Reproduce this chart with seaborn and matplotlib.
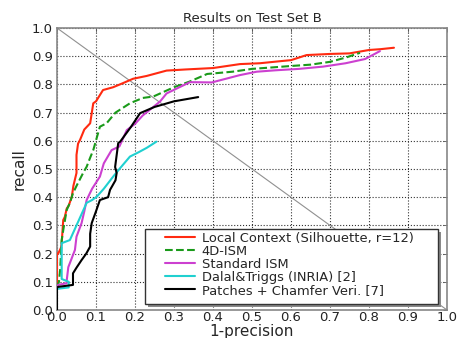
import matplotlib
matplotlib.use("Agg")
import matplotlib.pyplot as plt
from matplotlib.patches import Rectangle
import seaborn as sns
import pandas as pd
import numpy as np

sns.set_style("white")
plt.rcParams['font.family'] = ['DejaVu Sans']

labels = ["Local Context (Silhouette, r=12)", "4D-ISM", "Standard ISM",
          "Dalal&Triggs (INRIA) [2]", "Patches + Chamfer Veri. [7]"]

red_x = [0.0, 0.0, 0.003, 0.01, 0.012, 0.016, 0.02, 0.025, 0.03, 0.038, 0.042, 0.05, 0.05, 0.054,
         0.059, 0.07, 0.085, 0.093, 0.1, 0.118, 0.144, 0.17, 0.195, 0.23, 0.281, 0.33, 0.40, 0.469,
         0.52, 0.57, 0.60, 0.64, 0.70, 0.75, 0.80, 0.83, 0.864]
red_y = [0.08, 0.2, 0.2, 0.22, 0.237, 0.319, 0.33, 0.36, 0.37, 0.402, 0.44, 0.486, 0.55, 0.59,
         0.603, 0.64, 0.662, 0.733, 0.74, 0.78, 0.79, 0.805, 0.82, 0.83, 0.849, 0.853, 0.858, 0.872,
         0.875, 0.882, 0.886, 0.904, 0.908, 0.91, 0.922, 0.925, 0.930]

green_x = [0.0, 0.005, 0.008, 0.012, 0.018, 0.025, 0.033, 0.041, 0.05, 0.067, 0.076, 0.085, 0.093,
           0.11, 0.127, 0.15, 0.187, 0.22, 0.247, 0.30, 0.34, 0.385, 0.45, 0.5, 0.55, 0.597, 0.65,
           0.70, 0.74, 0.777]
green_y = [0.08, 0.1, 0.142, 0.248, 0.3, 0.355, 0.38, 0.414, 0.44, 0.486, 0.508, 0.54, 0.567,
           0.65, 0.662, 0.7, 0.733, 0.752, 0.757, 0.79, 0.81, 0.837, 0.845, 0.855, 0.86, 0.865, 0.87,
           0.88, 0.895, 0.912]

mag_x = [0.0, 0.003, 0.025, 0.025, 0.029, 0.046, 0.05, 0.063, 0.07, 0.076, 0.09, 0.110, 0.12,
         0.14, 0.16, 0.179, 0.2, 0.22, 0.264, 0.281, 0.341, 0.397, 0.469, 0.512, 0.56, 0.62, 0.682,
         0.74, 0.79, 0.828]
mag_y = [0.08, 0.089, 0.095, 0.106, 0.152, 0.213, 0.26, 0.308, 0.35, 0.39, 0.43, 0.473, 0.52,
         0.567, 0.58, 0.638, 0.66, 0.69, 0.739, 0.768, 0.808, 0.807, 0.833, 0.845, 0.85, 0.855, 0.863,
         0.875, 0.89, 0.918]

cyan_x = [0.0, 0.03, 0.03, 0.012, 0.012, 0.033, 0.05, 0.076, 0.09, 0.102, 0.12, 0.144, 0.16,
          0.187, 0.21, 0.23, 0.255]
cyan_y = [0.075, 0.08, 0.1, 0.11, 0.237, 0.248, 0.3, 0.38, 0.39, 0.402, 0.43, 0.473, 0.5,
          0.544, 0.56, 0.575, 0.597]

black_x = [0.0, 0.0, 0.003, 0.041, 0.041, 0.05, 0.063, 0.075, 0.085, 0.085, 0.089, 0.10, 0.110,
           0.131, 0.136, 0.15, 0.153, 0.149, 0.157, 0.162, 0.19, 0.213, 0.25, 0.3, 0.362]
black_y = [0.0, 0.08, 0.082, 0.089, 0.13, 0.15, 0.177, 0.2, 0.225, 0.27, 0.308, 0.35, 0.39,
           0.40, 0.426, 0.46, 0.486, 0.507, 0.592, 0.597, 0.65, 0.698, 0.72, 0.74, 0.755]

series = [(red_x, red_y), (green_x, green_y), (mag_x, mag_y), (cyan_x, cyan_y), (black_x, black_y)]
colors = ["#ff2a10", "#1a9a1a", "#cc40d0", "#20d0d0", "#000000"]
styles = ["-", "--", "-", "-", "-"]

W, H = 460, 338
fig = plt.figure(figsize=(W / 100, H / 100), dpi=100)
ax = fig.add_axes([57 / W, 28 / H, 390 / W, 282 / H])

# diagonal
ax.plot([0, 1], [1, 0], color="#909090", lw=0.8, zorder=1)

for (xs, ys), lab, c, ls in zip(series, labels, colors, styles):
    df = pd.DataFrame({"x": xs, "y": ys})
    sns.lineplot(data=df, x="x", y="y", ax=ax, sort=False, estimator=None,
                 color=c, linestyle=ls, lw=1.5, label=lab, zorder=3)

ax.set_xlim(0, 1)
ax.set_ylim(0, 1)
ticks = np.round(np.arange(0, 1.01, 0.1), 1)
ax.set_xticks(ticks)
ax.set_yticks(ticks)
ax.set_xticklabels([f"{t:.1f}" for t in ticks], fontsize=9.5)
ax.set_yticklabels([f"{t:.1f}" for t in ticks], fontsize=9.5)
ax.tick_params(axis="both", direction="in", length=3, width=0.6, color="#555555",
               top=True, right=True, colors="#222222")
ax.tick_params(axis="x", pad=1)
ax.tick_params(axis="y", pad=3)
ax.grid(True, color="#333333", linestyle=":", linewidth=0.8)
for s in ax.spines.values():
    s.set_color("#888888")
    s.set_linewidth(1.2)
ax.set_xlabel("1-precision", fontsize=11, labelpad=0)
ax.set_ylabel("recall", fontsize=11, labelpad=4)
ax.set_title("Results on Test Set B", fontsize=9.5, pad=4)

# legend box with shadow (drawn in figure pixel coordinates)
bx0, by0, bx1, by1 = 145, 338 - 304, 438, 338 - 229
shadow = Rectangle((bx0 + 3, by0 - 3), bx1 - bx0, by1 - by0, transform=None,
                   facecolor="#8a8a8a", edgecolor="none", zorder=4)
box = Rectangle((bx0, by0), bx1 - bx0, by1 - by0, transform=None,
                facecolor="white", edgecolor="#333333", lw=1.0, zorder=5)
fig.add_artist(shadow)
fig.add_artist(box)

handles, labs = ax.get_legend_handles_labels()
ax.get_legend().remove()
leg = fig.legend(handles, labs, loc="upper left", bbox_to_anchor=(165 / W, (338 - 232) / H),
                 fontsize=9.4, frameon=False,
                 handlelength=2.3, handletextpad=0.5, labelspacing=0.0,
                 borderpad=0.0, borderaxespad=0.0)
leg.set_zorder(6)

fig.savefig("out.png", dpi=100)
